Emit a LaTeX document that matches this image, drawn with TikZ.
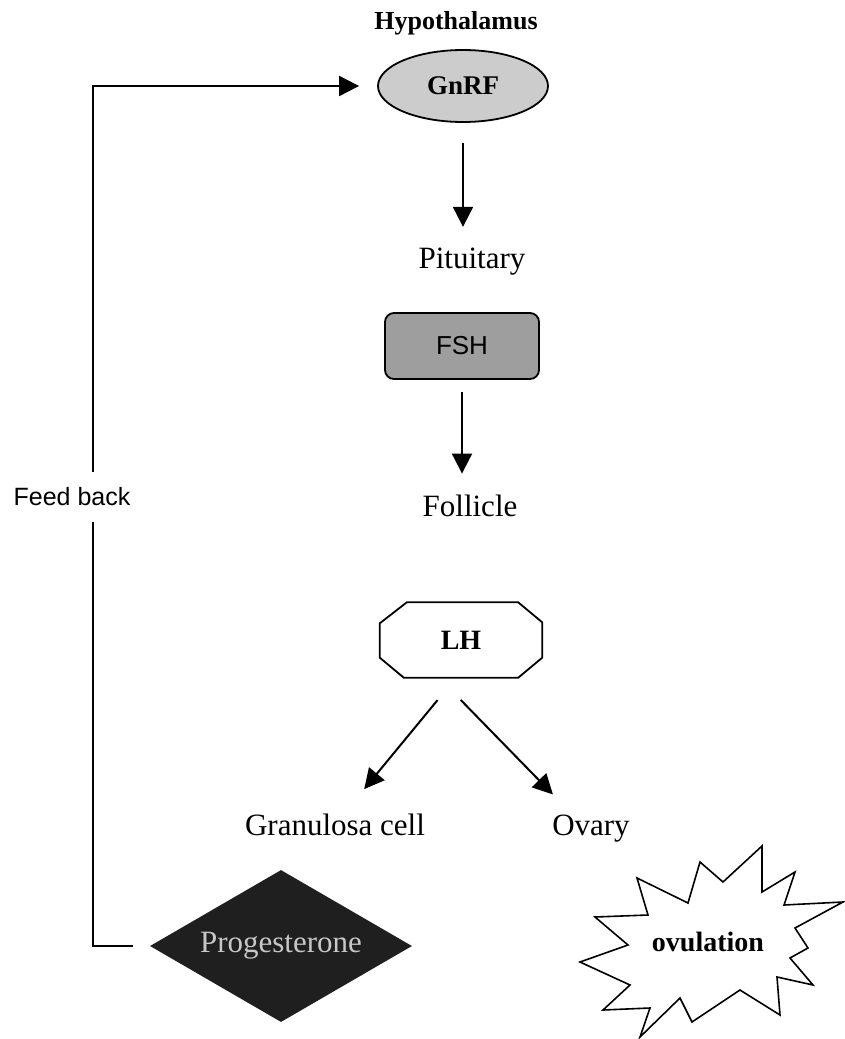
\documentclass[tikz,border=0pt]{standalone}
\usepackage{fontspec}
\setmainfont{Liberation Serif}
\setsansfont{Liberation Sans}
\usetikzlibrary{shapes.geometric,arrows.meta,calc}

\definecolor{gnrfgrey}{gray}{0.80}
\definecolor{fshgrey}{gray}{0.62}
\definecolor{proggrey}{gray}{0.12}
\definecolor{progtext}{gray}{0.78}

\tikzset{
    organ/.style={font=\fontsize{31}{36}\selectfont},
    hormone/.style={font=\bfseries\fontsize{27}{32}\selectfont},
    flow/.style={line width=2pt, -{Triangle[length=20pt,width=20pt]}},
    loop/.style={line width=2pt}
}

\begin{document}
\begin{tikzpicture}[x=1pt,y=-1pt]
    \useasboundingbox (0,0) rectangle (845,1039);

    % hypothalamus and GnRF
        \node[font=\bfseries\fontsize{26}{30}\selectfont] (hypo) at (456,23) {Hypothalamus};
        \node[hormone, ellipse, draw, line width=1.8pt, fill=gnrfgrey,
              minimum width=170pt, minimum height=72pt, inner sep=0pt] (gnrf) at (463,86) {GnRF};

    % pituitary and FSH
        \node[organ] (pit) at (472,262) {Pituitary};
        \node[draw, line width=1.8pt, rounded corners=9pt, fill=fshgrey,
              minimum width=154pt, minimum height=66pt, inner sep=0pt,
              font=\sffamily\fontsize{26}{30}\selectfont] (fsh) at (462,346) {FSH};

    % follicle and LH
        \node[organ] (foll) at (470,506) {Follicle};
        \node[hormone, font=\bfseries\fontsize{28}{32}\selectfont,
              minimum width=162pt, minimum height=75pt, inner sep=0pt] (lh) at (461,640) {LH};
        \draw[line width=1.8pt] ($(lh.north west)+(27,0)$) -- ($(lh.north east)+(-24,0)$)
            -- ($(lh.north east)+(0,20)$) -- ($(lh.south east)+(0,-20)$)
            -- ($(lh.south east)+(-24,0)$) -- ($(lh.south west)+(24,0)$)
            -- ($(lh.south west)+(0,-20)$) -- ($(lh.north west)+(0,21)$) -- cycle;

    % targets
        \node[organ, anchor=base] (gran) at (335,835) {Granulosa cell};
        \node[organ, anchor=base] (ovary) at (591,835) {Ovary};

    % progesterone
        \node[diamond, fill=proggrey, minimum width=262pt, minimum height=152pt,
              aspect=1.72, inner sep=0pt, text=progtext,
              font=\fontsize{31}{36}\selectfont] (prog) at (281,946) {Progesterone};

    % ovulation burst
        \draw[line width=1.6pt, fill=white] (637,878) -- (688,903) -- (700,862) -- (723,882)
            -- (762,846) -- (762,892) -- (795,872) -- (784,905) -- (843,902)
            -- (795,928) -- (808,948) -- (790,958) -- (813,985) -- (777,977)
            -- (780,1015) -- (740,990) -- (692,1022) -- (680,998) -- (640,1037)
            -- (650,1008) -- (603,1010) -- (630,985) -- (580,962) -- (628,945)
            -- (595,917) -- (648,915) -- cycle;
        \node[hormone, font=\bfseries\fontsize{28}{32}\selectfont] (ovul) at (708,942) {ovulation};

    % feed back loop
        \node[font=\sffamily\fontsize{25}{29}\selectfont] (fb) at (72,497) {Feed back};
        \coordinate (fbx) at (93,0);
        \draw[loop, shorten <=17pt, shorten >=12pt] (prog.west) -- (fbx |- prog.west) -- (fbx |- fb.south);
        \draw[flow, shorten <=12pt, shorten >=18pt] (fbx |- fb.north) -- (fbx |- gnrf.west) -- (gnrf.west);

    % arrows down the axis
        \draw[flow, shorten <=20pt, shorten >=18pt] (gnrf.south) -- (gnrf.south |- pit.north);
        \draw[flow, shorten <=12pt, shorten >=18pt] (fsh.south) -- (fsh.south |- foll.north);
        \draw[flow, shorten <=29pt, shorten >=27pt] ($(lh.south)+(-5,0)$) -- ($(gran.north)+(12,0)$);
        \draw[flow, shorten <=31pt, shorten >=23pt] ($(lh.south)+(-22,0)$) -- ($(ovary.north)+(-22,0)$);

\end{tikzpicture}
\end{document}
